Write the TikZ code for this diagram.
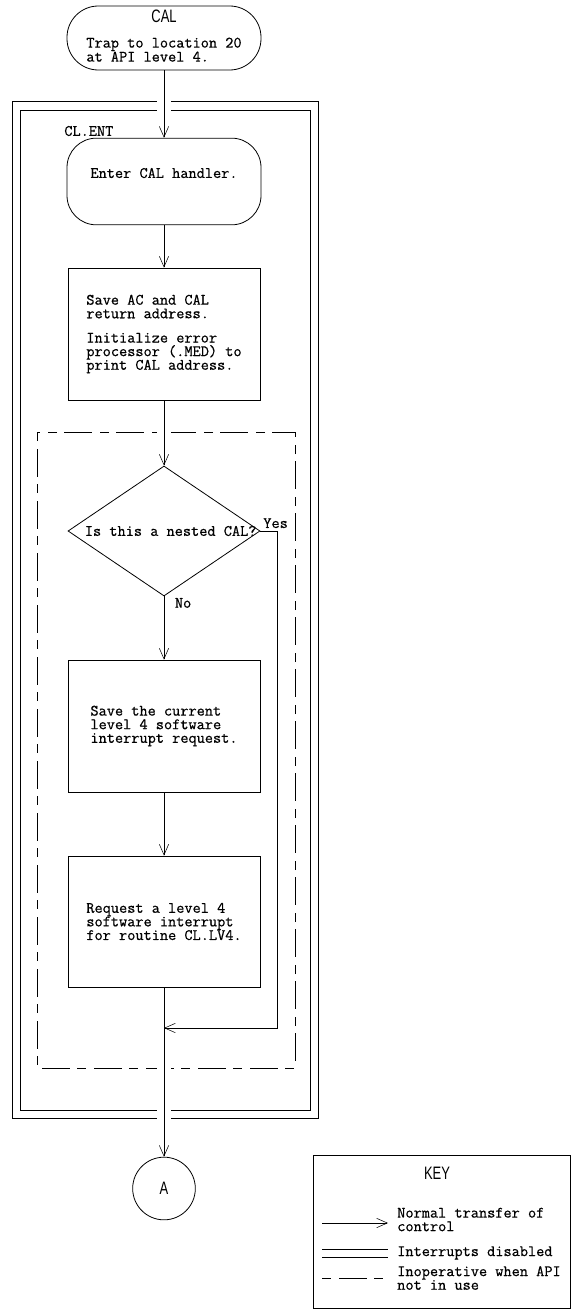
\documentclass[tikz,border=0pt]{standalone}
\usepackage{fontspec}
\setmonofont[FakeBold=0.6]{Latin Modern Mono}
\newfontfamily\letterfont[FakeStretch=0.72]{Liberation Sans}
\usetikzlibrary{shapes.geometric,arrows.meta}
\pgfdeclarelayer{back}\pgfdeclarelayer{mid}
\pgfsetlayers{back,mid,main}

\begin{document}
\begin{tikzpicture}[x=0.75pt,y=-0.75pt,line width=0.6pt,
  font=\ttfamily\fontsize{11.9}{10.2}\selectfont,
  termbox/.style={draw,fill=white,rounded corners=#1,minimum width=145.5pt,inner sep=0pt},
  procbox/.style={draw,fill=white,minimum width=144pt,minimum height=99pt,align=left,inner sep=0pt},
  flow/.style={-{Straight Barb[length=8pt,width=7pt]}},
  cross/.style={preaction={draw=white,line width=11pt,-}},
  intoff/.style={double,double distance=5.4pt},
  apioff/.style={dash pattern=on 7pt off 6pt on 21pt off 5pt}]
\useasboundingbox(0,0)rectangle(577,1312);
% flow chart
\node[termbox=23.5pt,minimum height=48pt](cal)at(164,38){\begin{tabular}{@{}l@{}}\multicolumn{1}{@{}c@{}}{\letterfont\fontsize{13.5}{14}\selectfont CAL}\\[8pt]Trap to location 20\\at API level 4.\end{tabular}};
\node[termbox=22pt,minimum height=65pt,label={[anchor=south west,inner sep=1pt,xshift=-3pt]north west:CL.ENT}](enter)at(164,181.5){\raisebox{12.8pt}{Enter CAL handler.}};
\node[procbox](save)at(164,334){Save AC and CAL\\return address.\\[8pt]Initialize error\\processor (.MED) to\\print CAL address.};
\node[draw,fill=white,diamond,minimum width=144pt,minimum height=97.5pt,inner sep=0pt,label={[xshift=5pt]center:Is this a nested CAL?}](q)at(164,531){};
\node[procbox](savereq)at(164,726){Save the current\\level 4 software\\interrupt request.};
\node[procbox,minimum height=98.25pt](req)at(164,921.5){Request a level 4\\software interrupt\\for routine CL.LV4.};
\node[draw,fill=white,circle,minimum size=47pt,inner sep=0pt,font=\letterfont\fontsize{13.5}{14}\selectfont](a)at(164,1188.5){A};
\coordinate(yb)at(277,1028);\coordinate(j)at(164,1028);
% frames
\begin{pgfonlayer}{back}
\draw(12,101)rectangle(318,1118);
\draw(20,110)rectangle(310,1110);
\draw[apioff](37,432)rectangle(295,1068);
\end{pgfonlayer}
% connectors
\begin{pgfonlayer}{mid}
\draw[flow,cross](cal)--(enter);
\draw[flow](enter)--(save);
\draw[flow,cross](save)--(q);
\draw[flow](q)--node[pos=0,anchor=north west,xshift=7pt,inner sep=1pt]{No}(savereq);
\draw[flow](savereq)--(req);
\draw[flow,cross](req)--(a);
\draw[flow](q.east)-|node[pos=0,anchor=south west,inner sep=2pt]{Yes}(yb)--(j);
\end{pgfonlayer}
% key
\node[draw,minimum width=192.75pt,minimum height=114.75pt](key)at(441.5,1231.5){};
\node[font=\letterfont\fontsize{13.5}{14}\selectfont](keyt)at(437,1173){KEY};
\coordinate(k1a)at(322,1223);\coordinate(k1b)at(388,1223);
\coordinate(k2a)at(322,1253.5);\coordinate(k2b)at(388,1253.5);
\coordinate(k3a)at(322,1278);\coordinate(k3b)at(383,1278);
\draw[flow](k1a)--(k1b);
\draw[intoff](k2a)--(k2b);
\draw[apioff](k3a)--(k3b);
\node[anchor=west,align=left,inner sep=0pt](k1t)at(397,1219.5){Normal transfer of\\control};
\node[anchor=west,align=left,inner sep=0pt](k2t)at(397,1253){Interrupts disabled};
\node[anchor=west,align=left,inner sep=0pt](k3t)at(397,1278){Inoperative when API\\not in use};
\end{tikzpicture}
\end{document}
